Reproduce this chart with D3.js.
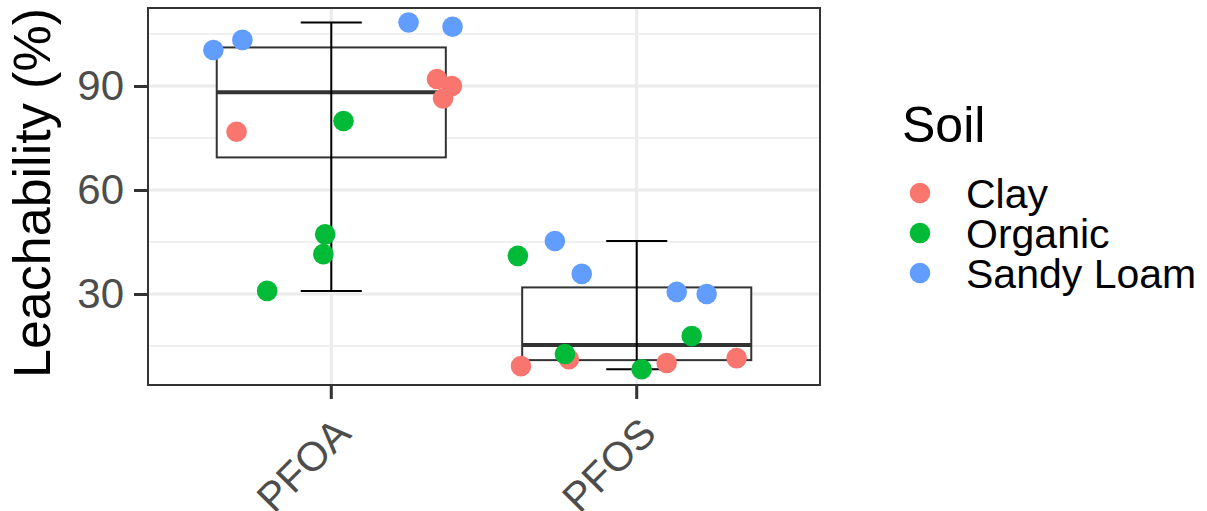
<!DOCTYPE html>
<html>
<head>
<meta charset="utf-8">
<script src="https://cdn.jsdelivr.net/npm/d3@7"></script>
<style>
  body { margin: 0; background: #fff; }
  svg { display: block; font-family: "Liberation Sans", Arial, sans-serif; }
</style>
</head>
<body>
<svg id="chart" width="1207" height="511"></svg>
<script>
// categorias y datos
var compounds = ["PFOA", "PFOS"];
var soils = ["Clay", "Organic", "Sandy Loam"];
var soilColors = ["#F8766D", "#00BA38", "#619CFF"];

var pointCompound = ["PFOA","PFOA","PFOA","PFOA", "PFOA","PFOA","PFOA","PFOA", "PFOA","PFOA","PFOA","PFOA",
                     "PFOS","PFOS","PFOS","PFOS", "PFOS","PFOS","PFOS","PFOS", "PFOS","PFOS","PFOS","PFOS"];
var pointSoil = ["Clay","Clay","Clay","Clay", "Organic","Organic","Organic","Organic", "Sandy Loam","Sandy Loam","Sandy Loam","Sandy Loam",
                 "Clay","Clay","Clay","Clay", "Organic","Organic","Organic","Organic", "Sandy Loam","Sandy Loam","Sandy Loam","Sandy Loam"];
var pointValue = [76.8, 92.0, 90.0, 86.4,   79.9, 47.2, 41.5, 30.9,   100.4, 103.3, 108.3, 107.1,
                  9.2, 11.2, 10.1, 11.5,    41.0, 12.7, 8.3, 17.9,    45.3, 35.8, 30.6, 30.0];
// desplazamiento horizontal (jitter) en unidades de categoria
var pointJitter = [-0.310, 0.346, 0.395, 0.366,   0.040, -0.020, -0.026, -0.210,   -0.386, -0.291, 0.253, 0.397,
                   -0.379, -0.222, 0.098, 0.327,   -0.389, -0.235, 0.016, 0.180,   -0.268, -0.180, 0.131, 0.229];

var yTicks = [30, 60, 90];
var yMinorTicks = [15, 45, 75, 105];
var yLimits = [3.75, 112.5];

var svg = d3.select("#chart"),
    pLeft = 148, pRight = 820, pTop = 8, pBottom = 385;

var data = pointValue.map(function(v, i){
    return {compound: pointCompound[i], soil: pointSoil[i], value: v, jitter: pointJitter[i]};
});

var xScale = d3.scaleLinear().domain([0.4, compounds.length + 0.6]).range([pLeft, pRight]),
    yScale = d3.scaleLinear().domain(yLimits).range([pBottom, pTop]),
    color = d3.scaleOrdinal().domain(soils).range(soilColors);

function xPos(c){ return xScale(compounds.indexOf(c) + 1); }

/* Fondo y rejilla */
svg.append("rect").attr("x", pLeft).attr("y", pTop)
    .attr("width", pRight - pLeft).attr("height", pBottom - pTop).attr("fill", "#fff");

var grid = svg.append("g");
grid.selectAll(".minor").data(yMinorTicks).enter().append("line")
    .attr("x1", pLeft).attr("x2", pRight)
    .attr("y1", function(d){ return yScale(d); }).attr("y2", function(d){ return yScale(d); })
    .attr("stroke", "#EBEBEB").attr("stroke-width", 1.5);
grid.selectAll(".major").data(yTicks).enter().append("line")
    .attr("x1", pLeft).attr("x2", pRight)
    .attr("y1", function(d){ return yScale(d); }).attr("y2", function(d){ return yScale(d); })
    .attr("stroke", "#EBEBEB").attr("stroke-width", 3);
grid.selectAll(".xmajor").data(compounds).enter().append("line")
    .attr("x1", xPos).attr("x2", xPos)
    .attr("y1", pTop).attr("y2", pBottom)
    .attr("stroke", "#EBEBEB").attr("stroke-width", 3);

/* Boxplot */
var stats = compounds.map(function(c){
    var vals = data.filter(function(d){ return d.compound === c; })
        .map(function(d){ return d.value; }).sort(d3.ascending);
    var q1 = d3.quantile(vals, 0.25), q2 = d3.quantile(vals, 0.5), q3 = d3.quantile(vals, 0.75),
        iqr = q3 - q1;
    var lo = d3.min(vals.filter(function(v){ return v >= q1 - 1.5 * iqr; })),
        hi = d3.max(vals.filter(function(v){ return v <= q3 + 1.5 * iqr; }));
    return {compound: c, q1: q1, q2: q2, q3: q3, lo: lo, hi: hi};
});

var boxW = xScale(0.75) - xScale(0), capW = xScale(0.2) - xScale(0);

var box = svg.append("g");
box.selectAll(".box").data(stats).enter().append("rect")
    .attr("x", function(d){ return xPos(d.compound) - boxW / 2; })
    .attr("y", function(d){ return yScale(d.q3); })
    .attr("width", boxW)
    .attr("height", function(d){ return yScale(d.q1) - yScale(d.q3); })
    .attr("fill", "#fff").attr("stroke", "#333").attr("stroke-width", 2);
box.selectAll(".median").data(stats).enter().append("line")
    .attr("x1", function(d){ return xPos(d.compound) - boxW / 2; })
    .attr("x2", function(d){ return xPos(d.compound) + boxW / 2; })
    .attr("y1", function(d){ return yScale(d.q2); }).attr("y2", function(d){ return yScale(d.q2); })
    .attr("stroke", "#333").attr("stroke-width", 4);

// barras de error (bigotes)
var eb = svg.append("g").attr("stroke", "#000").attr("stroke-width", 2);
eb.selectAll(".v").data(stats).enter().append("line")
    .attr("x1", function(d){ return xPos(d.compound); }).attr("x2", function(d){ return xPos(d.compound); })
    .attr("y1", function(d){ return yScale(d.lo); }).attr("y2", function(d){ return yScale(d.hi); });
["lo", "hi"].forEach(function(k){
    eb.selectAll(".cap-" + k).data(stats).enter().append("line")
        .attr("x1", function(d){ return xPos(d.compound) - capW / 2; })
        .attr("x2", function(d){ return xPos(d.compound) + capW / 2; })
        .attr("y1", function(d){ return yScale(d[k]); }).attr("y2", function(d){ return yScale(d[k]); });
});

/* Puntos */
svg.append("g").selectAll("circle").data(data).enter().append("circle")
    .attr("cx", function(d){ return xScale(compounds.indexOf(d.compound) + 1 + d.jitter); })
    .attr("cy", function(d){ return yScale(d.value); })
    .attr("r", 10.3)
    .attr("fill", function(d){ return color(d.soil); });

/* Borde del panel */
svg.append("rect").attr("x", pLeft).attr("y", pTop)
    .attr("width", pRight - pLeft).attr("height", pBottom - pTop)
    .attr("fill", "none").attr("stroke", "#333").attr("stroke-width", 2);

/* Ejes */
var yAxis = svg.append("g").attr("transform", "translate(" + pLeft + ",0)")
    .call(d3.axisLeft(yScale).tickValues(yTicks).tickSize(14).tickPadding(10));
yAxis.select(".domain").remove();
yAxis.selectAll(".tick line").attr("stroke", "#333").attr("stroke-width", 3);
yAxis.selectAll(".tick text").attr("fill", "#4D4D4D").attr("font-size", "42px")
    .attr("font-family", "Liberation Sans, Arial, sans-serif");

var xAxis = svg.append("g");
xAxis.selectAll(".tick").data(compounds).enter().append("line")
    .attr("x1", xPos).attr("x2", xPos)
    .attr("y1", pBottom).attr("y2", pBottom + 14)
    .attr("stroke", "#333").attr("stroke-width", 3);
xAxis.selectAll(".lab").data(compounds).enter().append("text")
    .attr("transform", function(d){ return "translate(" + (xPos(d) + 1) + "," + (pBottom + 30) + ") rotate(-45)"; })
    .attr("text-anchor", "end")
    .attr("dy", "0.71em")
    .attr("font-size", "41px")
    .attr("fill", "#4D4D4D")
    .text(function(d){ return d; });

svg.append("text")
    .attr("transform", "translate(50,193) rotate(-90)")
    .attr("text-anchor", "middle")
    .attr("font-size", "52px")
    .attr("fill", "#000")
    .text("Leachability (%)");

/* Leyenda */
var legend = svg.append("g");
legend.append("text").attr("x", 902).attr("y", 142)
    .attr("font-size", "50px").text("Soil");
var items = legend.selectAll(".item").data(soils).enter().append("g")
    .attr("transform", function(d, i){ return "translate(920," + (193 + i * 40) + ")"; });
items.append("circle").attr("r", 10.3).attr("fill", function(d){ return color(d); });
items.append("text").attr("x", 46).attr("dy", "0.36em")
    .attr("font-size", "41px").text(function(d){ return d; });
</script>
</body>
</html>
